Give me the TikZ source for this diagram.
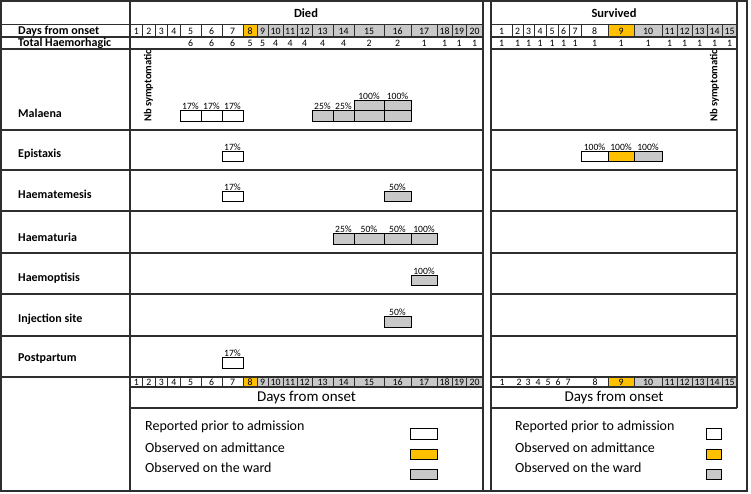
\documentclass[tikz,border=0pt]{standalone}
\usepackage{fontspec}
\setmainfont{Carlito}
\definecolor{orng}{HTML}{FFC000}
\definecolor{gry}{HTML}{C8C8C8}
\definecolor{ln}{HTML}{2E2E2E}
\newcommand\evt[7]{%
  \draw[evbox,fill=#5] (#1,#3) rectangle (#2,#4);
  \node[pct] (#7) at ({(#1+#2)/2},#3) {#6};}
\def\diedcols{130/142.5/1/white,142.5/155/2/white,155/167.5/3/white,167.5/180/4/white,180/201/5/white,201/222/6/white,222/243/7/white,243/257/8/orng,257/268/9/gry,268/283/10/gry,283/297/11/gry,297/312/12/gry,312/333/13/gry,333/354/14/gry,354/384/15/gry,384/411/16/gry,411/437/17/gry,437/452/18/gry,452/466/19/gry,466/483/20/gry}
\def\survcols{491/512/1/white,512/523/2/white,523/534/3/white,534/546/4/white,546/558/5/white,558/569/6/white,569/581/7/white,581/608/8/white,608/634/9/orng,634/662/10/gry,662/677/11/gry,677/692/12/gry,692/707/13/gry,707/722/14/gry,722/737/15/gry}
\begin{document}
\begin{tikzpicture}[x=1pt,y=-1pt,
 gridln/.style={draw=ln,line width=1.1pt},
 cellbox/.style={draw=ln,line width=0.8pt},
 evbox/.style={draw=black,line width=0.9pt},
 daynum/.style={font=\fontsize{9.8}{10}\selectfont,inner sep=0pt},
 pct/.style={font=\fontsize{9.6}{10}\selectfont,inner sep=0.7pt,anchor=south},
 rowlab/.style={font=\bfseries\fontsize{12}{14}\selectfont,anchor=west,inner sep=0pt},
 paneltitle/.style={font=\bfseries\fontsize{12.5}{14}\selectfont,inner sep=0pt},
 legtext/.style={font=\fontsize{14}{16}\selectfont,anchor=west,inner sep=0pt},
 axtitle/.style={font=\fontsize{15}{17}\selectfont,inner sep=0pt},
 nbsym/.style={font=\bfseries\fontsize{10.6}{12}\selectfont,rotate=90,anchor=west,inner sep=0pt}]
\useasboundingbox (0,0) rectangle (751,493);
\fill[white] (0,0) rectangle (751,493);

% header day cells
\foreach \a/\b/\n/\c in \diedcols {
  \draw[cellbox,fill=\c] (\a,24.5) rectangle (\b,37);
  \node[daynum] (dt\n) at ({(\a+\b)/2},31) {\n};
  \draw[cellbox,fill=\c] (\a,377) rectangle (\b,387);
  \node[daynum] (db\n) at ({(\a+\b)/2},382.3) {\n};
}
\foreach \a/\b/\n/\c in \survcols {
  \draw[cellbox,fill=\c] (\a,24.5) rectangle (\b,37);
  \node[daynum] (st\n) at ({(\a+\b)/2},31) {\n};
}
% bottom survived day row
\draw[cellbox,fill=white] (491,377) rectangle (608,387);
\foreach \x/\n in {502/1,519/2,528/3,538/4,548/5,558/6,568/7,595/8}
  \node[daynum] (sb\n) at (\x,382.3) {\n};
\foreach \a/\b/\n/\c in {608/634/9/orng,634/662/10/gry,662/677/11/gry,677/692/12/gry,692/707/13/gry,707/722/14/gry,722/737/15/gry} {
  \draw[cellbox,fill=\c] (\a,377) rectangle (\b,387);
  \node[daynum] (sb\n) at ({(\a+\b)/2},382.3) {\n};
}

% totals
\foreach \a/\b/\v [count=\i] in {180/201/6,201/222/6,222/243/6,243/257/5,257/268/5,268/283/4,283/297/4,297/312/4,312/333/4,333/354/4,354/384/2,384/411/2,411/437/1,437/452/1,452/466/1,466/483/1}
  \node[daynum] (tdn\i) at ({(\a+\b)/2},43.3) {\v};
\foreach \a/\b/\n/\c in \survcols
  \node[daynum] (tsv\n) at ({(\a+\b)/2},43.3) {1};

% grid lines
\foreach \y in {24.5,37,49,130,170,211,253,294,336,377} {
  \draw[gridln] (1,\y) -- (483,\y);
  \draw[gridln] (491,\y) -- (737,\y);
}
\foreach \y in {387,408} {
  \draw[gridln] (130,\y) -- (483,\y);
  \draw[gridln] (491,\y) -- (737,\y);
}
\draw[gridln] (1,1) rectangle (747,491);
\foreach \x in {130,483,491} \draw[gridln] (\x,1) -- (\x,491);
\draw[gridln] (737,1) -- (737,408);

% titles
\node[paneltitle] (died) at (306,13) {Died};
\node[paneltitle] (surv) at (614,13) {Survived};

% row labels
\node[rowlab] (l0) at (18,31) {Days from onset};
\node[rowlab] (l1) at (18,43) {Total Haemorhagic};
\node[rowlab] (l2) at (18,113) {Malaena};
\node[rowlab] (l3) at (18,154) {Epistaxis};
\node[rowlab] (l4) at (18,194) {Haematemesis};
\node[rowlab] (l5) at (18,237) {Haematuria};
\node[rowlab] (l6) at (18,278) {Haemoptisis};
\node[rowlab] (l7) at (18,319) {Injection site};
\node[rowlab] (l8) at (18,359) {Postpartum};

% Nb symptomatic
\begin{scope}
\clip (130,49.5) rectangle (483,130);
\node[nbsym] (nbd) at (148.5,122) {Nb symptomatic};
\end{scope}
\begin{scope}
\clip (491,49.5) rectangle (737,130);
\node[nbsym] (nbs) at (714.5,122) {Nb symptomatic};
\end{scope}

% Malaena
\evt{180}{201}{110}{121}{white}{17\%}{m5}
\evt{201}{222}{110}{121}{white}{17\%}{m6}
\evt{222}{243}{110}{121}{white}{17\%}{m7}
\evt{312}{333}{110}{121}{gry}{25\%}{m13}
\evt{333}{354}{110}{121}{gry}{25\%}{m14}
\draw[evbox,fill=gry] (354,110) rectangle (384,121);
\draw[evbox,fill=gry] (384,110) rectangle (411,121);
\evt{354}{384}{100}{110}{gry}{100\%}{m15}
\evt{384}{411}{100}{110}{gry}{100\%}{m16}
% Epistaxis
\evt{222}{243}{151}{161}{white}{17\%}{e7}
\evt{581}{608}{151}{161}{white}{100\%}{es8}
\evt{608}{634}{151}{161}{orng}{100\%}{es9}
\evt{634}{662}{151}{161}{gry}{100\%}{es10}
% Haematemesis
\evt{222}{243}{191}{201}{white}{17\%}{h7}
\evt{384}{411}{191}{201}{gry}{50\%}{h16}
% Haematuria
\evt{333}{354}{233}{244}{gry}{25\%}{u14}
\evt{354}{384}{233}{244}{gry}{50\%}{u15}
\evt{384}{411}{233}{244}{gry}{50\%}{u16}
\evt{411}{437}{233}{244}{gry}{100\%}{u17}
% Haemoptisis
\evt{411}{437}{275}{285}{gry}{100\%}{p17}
% Injection site
\evt{384}{411}{316}{327}{gry}{50\%}{i16}
% Postpartum
\evt{222}{243}{357}{368}{white}{17\%}{pp7}

% axis titles
\node[axtitle] (axd) at (306.5,397.5) {Days from onset};
\node[axtitle] (axs) at (614,397.5) {Days from onset};

% legends
\node[legtext] (ld1) at (145,427) {Reported prior to admission};
\node[legtext] (ld2) at (145,448) {Observed on admittance};
\node[legtext] (ld3) at (145,468) {Observed on the ward};
\draw[evbox,fill=white] (410,428) rectangle (437,439);
\draw[evbox,fill=orng] (410,449) rectangle (437,459);
\draw[evbox,fill=gry] (410,469) rectangle (437,479);
\node[legtext] (ls1) at (515,427) {Reported prior to admission};
\node[legtext] (ls2) at (515,448) {Observed on admittance};
\node[legtext] (ls3) at (515,468) {Observed on the ward};
\draw[evbox,fill=white] (706,428) rectangle (721,439);
\draw[evbox,fill=orng] (706,449) rectangle (721,459);
\draw[evbox,fill=gry] (706,469) rectangle (721,479);
\end{tikzpicture}
\end{document}
